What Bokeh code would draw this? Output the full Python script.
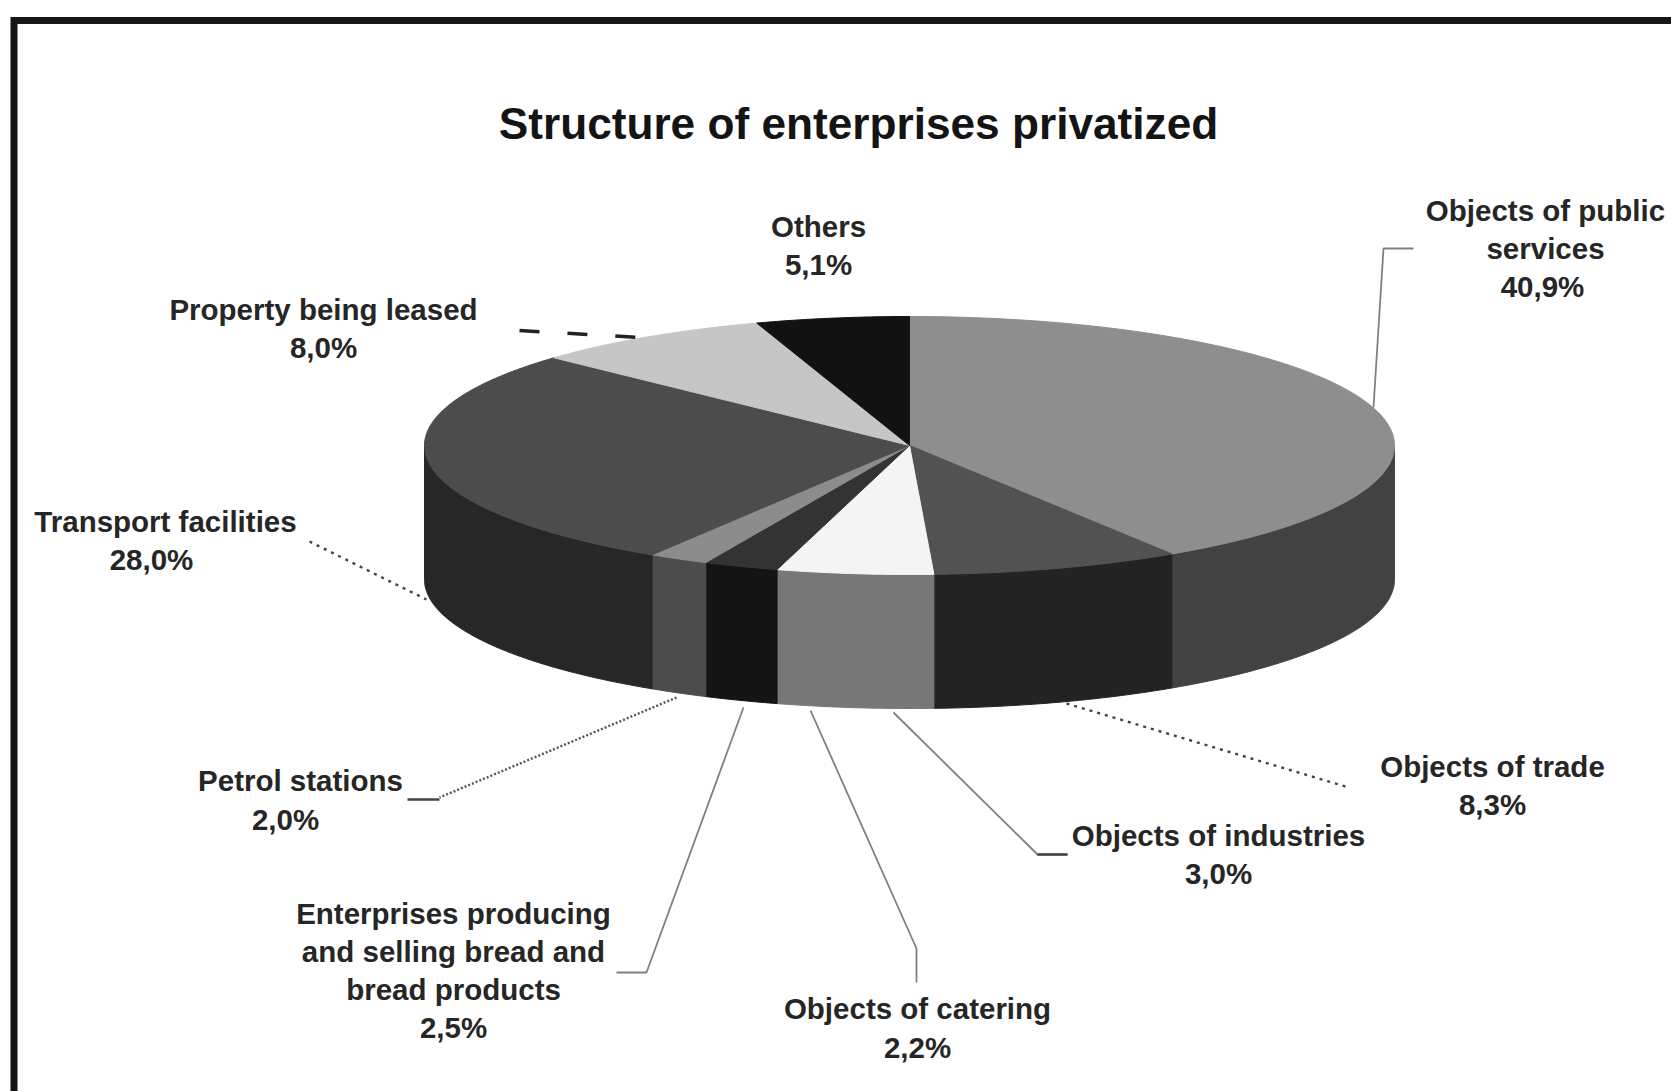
import numpy as np
from bokeh.plotting import figure
from bokeh.models import Range1d
from bokeh.core.properties import value
from bokeh.embed import file_html
from bokeh.resources import INLINE

title_text = "Structure of enterprises privatized"
categories = ["Objects of public services", "Objects of trade", "Objects of industries",
              "Objects of catering", "Enterprises producing and selling bread and bread products",
              "Petrol stations", "Transport facilities", "Property being leased", "Others"]
shares = [40.9, 8.3, 3.0, 2.2, 2.5, 2.0, 28.0, 8.0, 5.1]
top_colors = ["#8e8e8e", "#525252", "#f4f4f4", "#f4f4f4", "#333333", "#8c8c8c", "#4c4c4c", "#c6c6c6", "#121212"]
side_colors = ["#424242", "#232323", "#777777", "#777777", "#141414", "#4c4c4c", "#272727", "#777777", "#121212"]

label_lines = ["Others", "5,1%",
               "Objects of public", "services", "40,9%",
               "Property being leased", "8,0%",
               "Transport facilities", "28,0%",
               "Petrol stations", "2,0%",
               "Enterprises producing", "and selling bread and", "bread products", "2,5%",
               "Objects of catering", "2,2%",
               "Objects of industries", "3,0%",
               "Objects of trade", "8,3%"]

# layout (page pixels)
label_x = [818, 818, 1545, 1545, 1542, 323, 323, 165, 151, 300, 285, 453, 453, 453, 453, 917, 917, 1218, 1218, 1492, 1492]
label_y = [226, 264, 210, 248, 286, 309, 347, 521, 559, 780, 819, 913, 951, 989, 1027, 1008, 1047, 835, 873, 766, 804]
CX, CY, RX, RY, DEPTH = 909, 445, 485, 129, 134

p = figure(width=1671, height=1091, x_range=Range1d(0, 1671), y_range=Range1d(1091, 0),
           output_backend="svg", toolbar_location=None, min_border=0,
           background_fill_color="white", border_fill_color="white")
p.xaxis.visible = False
p.yaxis.visible = False
p.grid.visible = False
p.outline_line_color = None

edges = np.concatenate([[0], np.cumsum(shares)]) / sum(shares) * 2 * np.pi
def arc(a, b):
    t = np.linspace(a, b, max(3, int((b - a) * 120)))
    return CX + RX * np.sin(t), CY - RY * np.cos(t)

# side walls: only the front half of the disc
sx, sy, sc = [], [], []
for a, b, c in zip(edges[:-1], edges[1:], side_colors):
    lo, hi = max(a, np.pi / 2), min(b, 3 * np.pi / 2)
    if hi <= lo:
        continue
    x, y = arc(lo, hi)
    sx.append(np.concatenate([x, x[::-1]]))
    sy.append(np.concatenate([y, y[::-1] + DEPTH]))
    sc.append(c)
p.patches(sx, sy, fill_color=sc, line_color=sc, line_width=1)

# top face
tx, ty = [], []
for a, b in zip(edges[:-1], edges[1:]):
    x, y = arc(a, b)
    tx.append(np.concatenate([[CX], x]))
    ty.append(np.concatenate([[CY], y]))
p.patches(tx, ty, fill_color=top_colors, line_color=top_colors, line_width=1)

# frame
p.multi_line([[13.5, 13.5, 1671]], [[1091, 20, 20]], line_color="#151515", line_width=7, line_join="miter")

# leader lines
p.multi_line([[1413, 1383, 1373], [893, 1037, 1067], [810, 916, 916], [743, 646, 616]],
             [[248, 248, 407], [712, 854, 854], [710, 948, 982], [707, 972, 972]],
             line_color="#808080", line_width=1.8)
p.multi_line([[1037, 1067], [407, 439]], [[854, 854], [799, 799]], line_color="#444444", line_width=2.5)
p.multi_line([[1066, 1345], [309, 426]], [[703, 786], [541, 599]],
             line_color="#444444", line_width=2.4, line_dash="3 5")
p.line([676, 439], [697, 797], line_color="#555555", line_width=2.4, line_dash="2 2")
p.line([519, 639], [330, 337], line_color="#222222", line_width=3.5, line_dash="20 28")

# texts
p.text(label_x, label_y, text=label_lines, text_font=value("Liberation Sans"), text_font_style="bold",
       text_font_size="29.5px", text_color="#262626", text_align="center", text_baseline="middle")
p.text([858], [123], text=[title_text], text_font=value("Liberation Sans"), text_font_style="bold",
       text_font_size="44.2px", text_color="#141414", text_align="center", text_baseline="middle")

open("out.html", "w").write(file_html(p, INLINE))
